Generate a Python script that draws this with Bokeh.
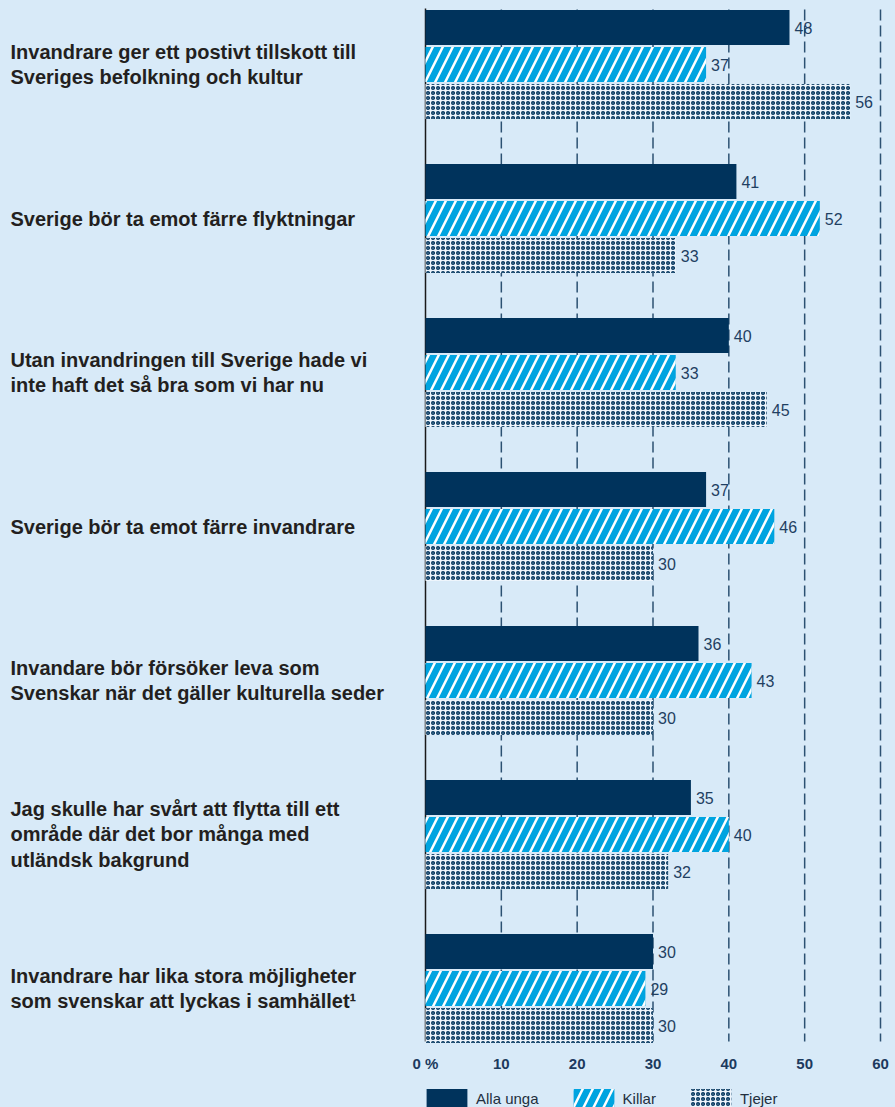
import numpy as np
from jinja2 import Template
from bokeh.plotting import figure
from bokeh.models import ColumnDataSource, Range1d, FixedTicker, Legend, LegendItem
from bokeh.core.properties import value
from bokeh.embed import file_html
from bokeh.resources import INLINE

# ---------------- data ----------------
categories = [
    "Invandrare ger ett postivt tillskott till\nSveriges befolkning och kultur",
    "Sverige bör ta emot färre flyktningar",
    "Utan invandringen till Sverige hade vi\ninte haft det så bra som vi har nu",
    "Sverige bör ta emot färre invandrare",
    "Invandare bör försöker leva som\nSvenskar när det gäller kulturella seder",
    "Jag skulle har svårt att flytta till ett\nområde där det bor många med\nutländsk bakgrund",
    "Invandrare har lika stora möjligheter\nsom svenskar att lyckas i samhället\u00b9",
]
alla_unga = [48, 41, 40, 37, 36, 35, 30]
killar = [37, 52, 33, 46, 43, 40, 29]
tjejer = [56, 33, 45, 30, 30, 32, 30]
series_names = ["Alla unga", "Killar", "Tjejer"]
x_ticks = [0, 10, 20, 30, 40, 50, 60]
x_tick_labels = ["0 %", "10", "20", "30", "40", "50", "60"]

# ---------------- style ----------------
BG = "#d8eaf8"
NAVY = "#00335c"
CYAN = "#00a4e0"
DOT_BG = "#eef5fc"
TEXT_DARK = "#231f20"
NUM_COL = "#1f3f62"
GRID_COL = "#2c5172"
FONT = "Liberation Sans"

W, H = 895, 1107
PITCH = 154.0           # px per category
FIRST_C = 64            # px of first category centre
GRID_TOP, GRID_BOTTOM = 9, 1041
AXIS_AT = 1044
PX_PER_UNIT = 455 / 60
X_START = -425 / PX_PER_UNIT
X_END = X_START + W / PX_PER_UNIT


def ypx(px):
    return (px - FIRST_C) / PITCH


off = 37 / PITCH
bar_h = 35 / PITCH

p = figure(width=W, height=H, output_backend="svg", toolbar_location=None,
           x_range=Range1d(X_START, X_END), y_range=Range1d(ypx(H), ypx(0)),
           y_axis_location=None, min_border_left=0, min_border_right=0,
           min_border_top=0, min_border_bottom=0)
p.background_fill_color = BG
p.border_fill_color = BG
p.outline_line_color = None
p.grid.visible = False

# dashed grid lines + solid zero line (from the tick values)
grid_x = x_ticks[1:]
p.segment(x0=grid_x, x1=grid_x, y0=[ypx(GRID_TOP)] * len(grid_x), y1=[ypx(GRID_BOTTOM)] * len(grid_x),
          line_color=GRID_COL, line_width=1.5, line_dash="11 5")
p.segment(x0=[x_ticks[0]], x1=[x_ticks[0]], y0=[ypx(8)], y1=[ypx(GRID_BOTTOM)],
          line_color="#1a1a1a", line_width=1.5)

pos = np.arange(len(categories))
series = [alla_unga, killar, tjejer]
styles = [
    dict(fill_color=NAVY),
    dict(fill_color=CYAN, hatch_pattern="/", hatch_color="white", hatch_weight=2.5, hatch_scale=20),
    dict(fill_color=DOT_BG, hatch_pattern="o", hatch_color=NAVY, hatch_weight=1.5, hatch_scale=5),
]
renderers = []
for k, (vals, st) in enumerate(zip(series, styles)):
    src = ColumnDataSource(dict(y=pos + (k - 1) * off, right=vals, label=[str(v) for v in vals]))
    r = p.hbar(y="y", left=0, right="right", height=bar_h, source=src, line_color=None, **st)
    renderers.append(r)
    p.text(x="right", y="y", text="label", source=src, x_offset=5,
           text_align="left", text_baseline="middle", text_font=value(FONT),
           text_font_size="16px", text_color=NUM_COL)

# category labels
p.text(x=[X_START + 10 / PX_PER_UNIT] * len(categories), y=pos, text=categories,
       text_align="left", text_baseline="middle", text_font=value(FONT),
       text_font_style="bold", text_font_size="20px", text_line_height=1.16,
       text_color=TEXT_DARK)

# x axis drawn inside the frame at a fixed location
ax = p.xaxis[0]
ax.fixed_location = ypx(AXIS_AT)
ax.ticker = FixedTicker(ticks=x_ticks)
ax.major_label_overrides = {t: l for t, l in zip(x_ticks, x_tick_labels)}
ax.axis_line_color = None
ax.major_tick_line_color = None
ax.minor_tick_line_color = None
ax.major_tick_out = 0
ax.major_tick_in = 0
ax.major_label_standoff = 10
ax.major_label_text_font = FONT
ax.major_label_text_font_style = "bold"
ax.major_label_text_font_size = "15px"
ax.major_label_text_color = "#1c3a5e"

legend = Legend(items=[LegendItem(label=n, renderers=[r]) for n, r in zip(series_names, renderers)],
                orientation="horizontal", location=(421, -3), margin=0, padding=0,
                spacing=29, glyph_width=51, glyph_height=24, label_standoff=4,
                border_line_color=None, background_fill_alpha=0,
                label_text_font=FONT, label_text_font_size="15px", label_text_color="#222f3e")
p.add_layout(legend, "center")

template = Template("""{% extends base %}
{% block preamble %}<style>html, body { background: #d8eaf8; }</style>{% endblock %}""")

open("out.html", "w").write(file_html(p, INLINE, template=template))
